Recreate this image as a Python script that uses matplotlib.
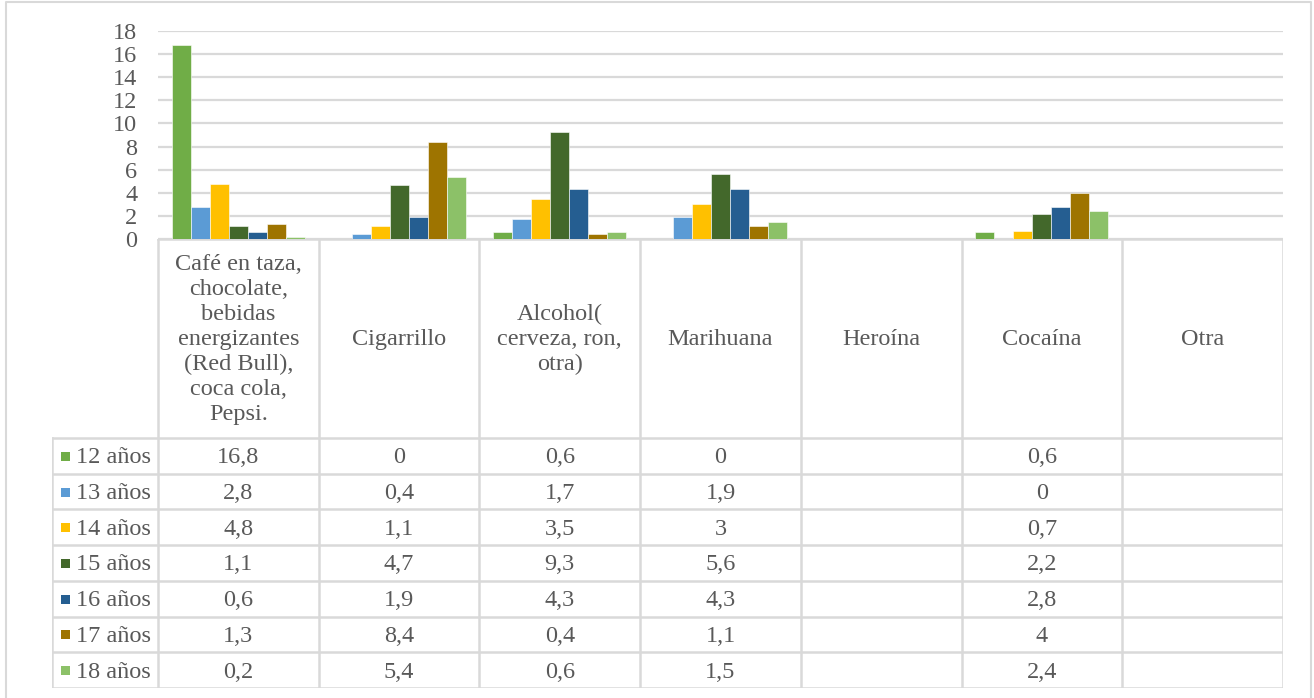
import numpy as np
import matplotlib.pyplot as plt
from matplotlib.patches import Rectangle

# =============================================================================
# data
# =============================================================================

categories = ['Café en taza,\nchocolate,\nbebidas\nenergizantes\n(Red Bull),\ncoca cola,\nPepsi.',
              'Cigarrillo', 'Alcohol(\ncerveza, ron,\notra)', 'Marihuana',
              'Heroína', 'Cocaína', 'Otra']
series_names = ['12 años', '13 años', '14 años', '15 años', '16 años', '17 años', '18 años']
nan = np.nan
edad_12 = [16.8, 0, 0.6, 0, nan, 0.6, nan]
edad_13 = [2.8, 0.4, 1.7, 1.9, nan, 0, nan]
edad_14 = [4.8, 1.1, 3.5, 3, nan, 0.7, nan]
edad_15 = [1.1, 4.7, 9.3, 5.6, nan, 2.2, nan]
edad_16 = [0.6, 1.9, 4.3, 4.3, nan, 2.8, nan]
edad_17 = [1.3, 8.4, 0.4, 1.1, nan, 4, nan]
edad_18 = [0.2, 5.4, 0.6, 1.5, nan, 2.4, nan]
series = [edad_12, edad_13, edad_14, edad_15, edad_16, edad_17, edad_18]
colors = ['#70AD47', '#5B9BD5', '#FFC000', '#43682B', '#255E91', '#9E7400', '#8CC168']

plt.rcParams['font.family'] = ['Liberation Serif', 'DejaVu Serif']
txt_col = '#595959'
grid_col = '#D9D9D9'
fs = 17.5
W, H = 1314, 698

fig = plt.figure(figsize=(W / 100, H / 100), dpi=100)

# outer chart border (no bottom edge, cut by the image)
fig.add_artist(plt.Line2D([6 / W, 6 / W, 1311 / W, 1311 / W], [0, 1 - 2 / H, 1 - 2 / H, 0],
                          color='#D9D9D9', lw=1.5, transform=fig.transFigure))

# =============================================================================
# bar chart
# =============================================================================
x_left, x_right = 158, 1283
y_top, y_axis, y_bottom = 31, 239, 688
ax = fig.add_axes([x_left / W, 1 - y_axis / H, (x_right - x_left) / W, (y_axis - y_top) / H])
n_cat = len(categories)
x = np.arange(n_cat)
bw = 0.1183
for i, (vals, c) in enumerate(zip(series, colors)):
    ax.bar(x + (i - 3) * bw, vals, bw, color=c, edgecolor='white', linewidth=0.4, zorder=3)
ax.set_xlim(-0.5, n_cat - 0.5)
ax.set_ylim(0, 18)
ax.set_yticks(range(0, 19, 2))
ax.set_xticks([])
ax.tick_params(axis='y', length=0, pad=15, labelsize=fs, labelcolor=txt_col)
ax.yaxis.grid(True, color=grid_col, lw=1.6, zorder=0)
for s in ax.spines.values():
    s.set_visible(False)

# =============================================================================
# data table
# =============================================================================
t_left = 52
cat_px = (x_right - x_left) / n_cat
x_edge = -0.5 - (x_left - t_left) / cat_px
tab = fig.add_axes([t_left / W, 1 - y_bottom / H, (x_right - t_left) / W, (y_bottom - y_axis) / H])
tab.set_xlim(x_edge, n_cat - 0.5)
head_h = 199
row_h = (y_bottom - y_axis - head_h) / len(series_names)
tab.set_ylim(y_bottom - y_axis, 0)
tab.axis('off')

lw = 1.8
# header lines
tab.plot([-0.5, n_cat - 0.5], [0, 0], color=grid_col, lw=lw)
for k in range(n_cat + 1):
    tab.plot([k - 0.5, k - 0.5], [0, y_bottom - y_axis], color=grid_col, lw=lw)
tab.plot([x_edge, x_edge], [head_h, y_bottom - y_axis], color=grid_col, lw=lw)
for r in range(len(series_names) + 1):
    yy = head_h + r * row_h
    tab.plot([x_edge, n_cat - 0.5], [yy, yy], color=grid_col, lw=lw)

for k, cat in enumerate(categories):
    tab.text(k, head_h / 2 + 1, cat, ha='center', va='center', fontsize=fs,
             color=txt_col, linespacing=1.24)

px = 1 / cat_px
for r, (name, vals, c) in enumerate(zip(series_names, series, colors)):
    yc = head_h + (r + 0.5) * row_h
    tab.add_patch(Rectangle((x_edge + 9 * px, yc - 4), 9 * px, 9, color=c, lw=0))
    tab.text(x_edge + 24 * px, yc + 2, name, ha='left', va='center', fontsize=fs, color=txt_col)
    for k, v in enumerate(vals):
        if np.isnan(v):
            continue
        s = ('%g' % v).replace('.', ',')
        tab.text(k, yc + 2, s, ha='center', va='center', fontsize=fs, color=txt_col)

fig.savefig('out.png', dpi=100)
